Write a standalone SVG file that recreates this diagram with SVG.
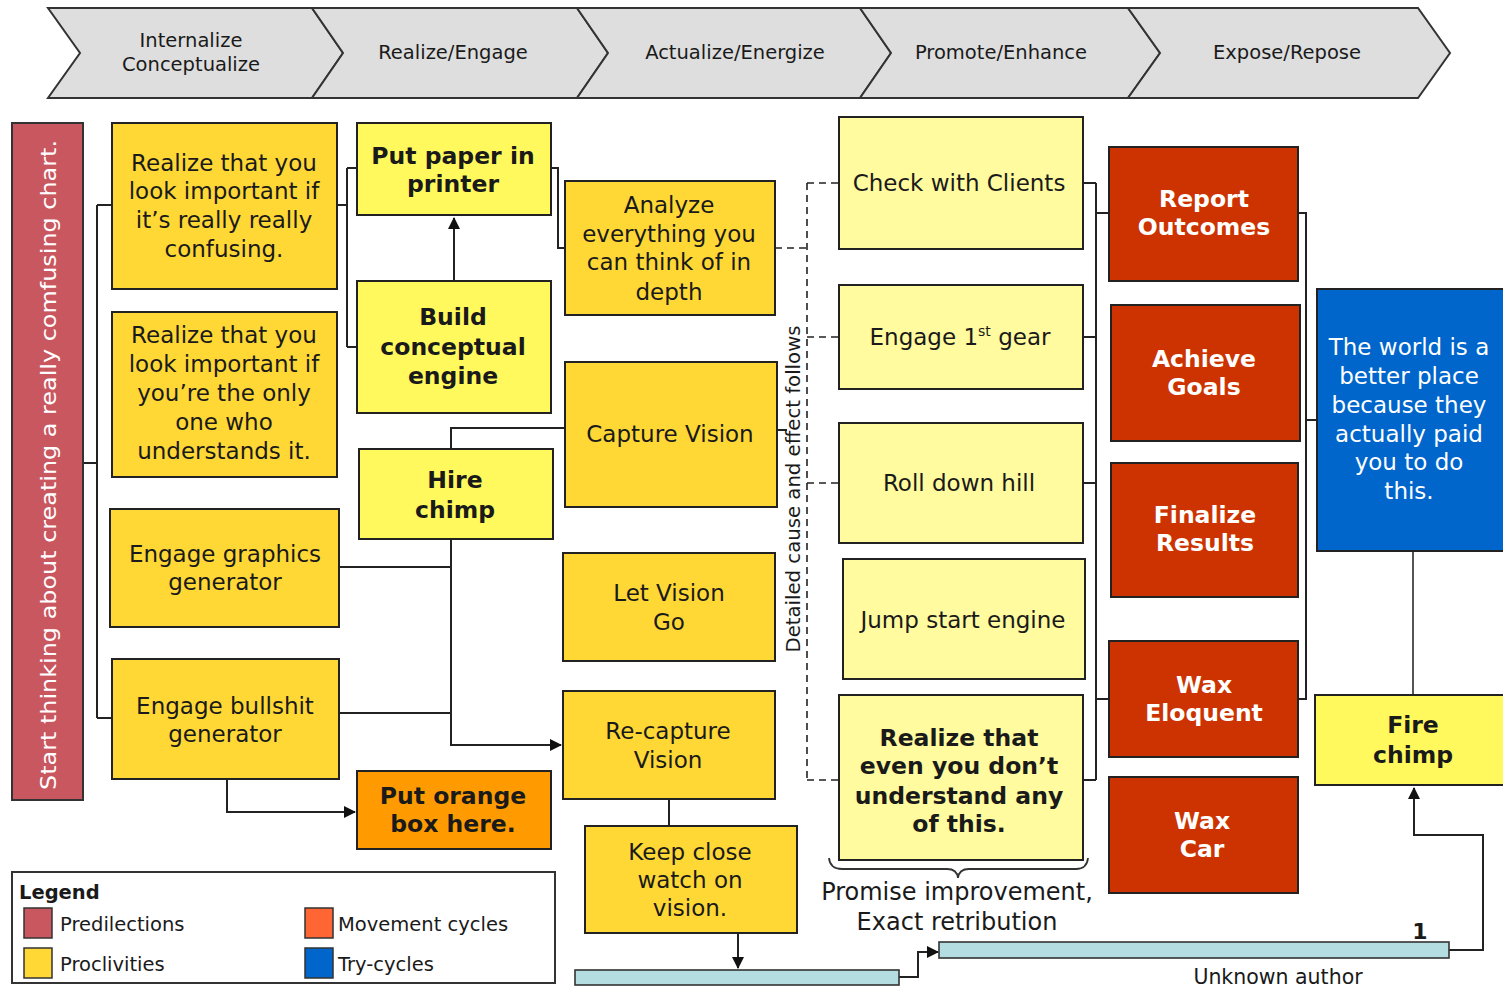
<svg xmlns="http://www.w3.org/2000/svg" width="1503" height="989" viewBox="0 0 1503 989">
<defs>
<marker id="ah" viewBox="0 0 12 12" refX="11" refY="6" markerWidth="12" markerHeight="12" markerUnits="userSpaceOnUse" orient="auto">
<path d="M0,0 L12,6 L0,12 Z" fill="#111"/>
</marker>
<style>
text{font-family:"DejaVu Sans","Liberation Sans",sans-serif;fill:#1a1a1a;text-anchor:middle}
.chev{fill:#dedede;stroke:#333;stroke-width:2}
.ct{font-size:19.5px}
.box{stroke:#222;stroke-width:2}
.gold{fill:#ffd835}
.lite{fill:#fff95e}
.pale{fill:#fffb9e}
.red{fill:#cc3300}
.blue{fill:#0066cc}
.orange{fill:#ff9a00}
.t{font-size:23px}
.tb{font-size:23.5px;font-weight:bold}
.tw{font-size:23.5px;font-weight:bold;fill:#fff}
.tbl{font-size:23px;fill:#fff}
.ln{fill:none;stroke:#222;stroke-width:2}
.dash{fill:none;stroke:#222;stroke-width:1.6;stroke-dasharray:7,5}
.lg{font-size:19.5px;text-anchor:start}
.bar{fill:#b3dde0;stroke:#333;stroke-width:1.6}
</style>
</defs>
<rect width="1503" height="989" fill="#fff"/>

<g id="phases">
<polygon class="chev" points="48,8 312,8 343,53 312,98 48,98 80,53"/>
<polygon class="chev" points="312,8 577,8 608,53 577,98 312,98 343,53"/>
<polygon class="chev" points="577,8 860,8 891,53 860,98 577,98 608,53"/>
<polygon class="chev" points="860,8 1128,8 1160,53 1128,98 860,98 891,53"/>
<polygon class="chev" points="1128,8 1418,8 1450,53 1418,98 1128,98 1160,53"/>
<text class="ct" x="191" y="47">Internalize</text>
<text class="ct" x="191" y="71">Conceptualize</text>
<text class="ct" x="453" y="59">Realize/Engage</text>
<text class="ct" x="735" y="59">Actualize/Energize</text>
<text class="ct" x="1001" y="59">Promote/Enhance</text>
<text class="ct" x="1287" y="59">Expose/Repose</text>
</g>

<g id="connectors">
<path class="ln" d="M83,463 H97 M97,205 V718 M97,205 H112 M97,718 H112"/>
<path class="ln" d="M337,205 H347 M347,168 V347 M347,168 H357 M347,347 H357"/>
<path class="ln" d="M454,281 V218" marker-end="url(#ah)"/>
<path class="ln" d="M551,168 H558 V248 H565"/>
<path class="ln" d="M451,449 V428 H565"/>
<path class="ln" d="M451,539 V745 H561" marker-end="url(#ah)"/>
<path class="ln" d="M339,567 H451 M339,713 H451"/>
<path class="ln" d="M227,779 V812 H355" marker-end="url(#ah)"/>
<path class="ln" d="M669,799 V826"/>
<path class="ln" d="M738,933 V968" marker-end="url(#ah)"/>
<path class="ln" d="M899,977 H918 V952 H938" marker-end="url(#ah)"/>
<path class="ln" d="M1449,950 H1483 V835 H1414 V788" marker-end="url(#ah)"/>
<path d="M1413,551 V695" fill="none" stroke="#555" stroke-width="2"/>
<path class="ln" d="M777,430 H787"/>
<path class="ln" d="M1083,183 H1096 M1083,337 H1096 M1083,483 H1096 M1083,780 H1096 M1096,183 V780 M1096,213 H1109 M1096,699 H1109"/>
<path class="ln" d="M1298,213 H1306 V699 H1298 M1306,420 H1317"/>
<path class="dash" d="M807,183 V780 M807,183 H839 M775,248 H807 M807,337 H839 M807,483 H839 M807,780 H839"/>
<text font-size="19" textLength="327" lengthAdjust="spacingAndGlyphs" transform="translate(800,489) rotate(-90)">Detailed cause and effect follows</text>
<path d="M829,858 Q830,869 842,869 L947,869 Q957,869 958,878 Q959,869 969,869 L1076,869 Q1087,869 1088,858" fill="none" stroke="#333" stroke-width="1.8"/>
<text font-size="24" x="957" y="900">Promise improvement,</text>
<text font-size="24" x="957" y="930">Exact retribution</text>
</g>

<g id="start">
<rect x="12" y="123" width="71" height="677" fill="#c9575f" stroke="#333" stroke-width="2"/>
<text font-size="22" style="fill:#fff" textLength="650" lengthAdjust="spacingAndGlyphs" transform="translate(56,465) rotate(-90)">Start thinking about creating a really comfusing chart.</text>
</g>

<g id="realize1">
<rect class="box gold" x="112" y="123" width="225" height="166"/>
<text class="t" x="224" y="171">Realize that you</text>
<text class="t" x="224" y="199">look important if</text>
<text class="t" x="224" y="228">it’s really really</text>
<text class="t" x="224" y="257">confusing.</text>
</g>
<g id="realize2">
<rect class="box gold" x="112" y="312" width="225" height="165"/>
<text class="t" x="224" y="343">Realize that you</text>
<text class="t" x="224" y="372">look important if</text>
<text class="t" x="224" y="401">you’re the only</text>
<text class="t" x="224" y="430">one who</text>
<text class="t" x="224" y="459">understands it.</text>
</g>
<g id="graphics">
<rect class="box gold" x="110" y="509" width="229" height="118"/>
<text class="t" x="225" y="562">Engage graphics</text>
<text class="t" x="225" y="590">generator</text>
</g>
<g id="bullshit">
<rect class="box gold" x="112" y="659" width="227" height="120"/>
<text class="t" x="225" y="714">Engage bullshit</text>
<text class="t" x="225" y="742">generator</text>
</g>
<g id="paper">
<rect class="box lite" x="357" y="123" width="194" height="92"/>
<text class="tb" x="453" y="164">Put paper in</text>
<text class="tb" x="453" y="192">printer</text>
</g>
<g id="build">
<rect class="box lite" x="357" y="281" width="194" height="132"/>
<text class="tb" x="453" y="325">Build</text>
<text class="tb" x="453" y="355">conceptual</text>
<text class="tb" x="453" y="384">engine</text>
</g>
<g id="hire">
<rect class="box lite" x="359" y="449" width="194" height="90"/>
<text class="tb" x="455" y="488">Hire</text>
<text class="tb" x="455" y="518">chimp</text>
</g>
<g id="orangebox">
<rect class="box orange" x="357" y="771" width="194" height="78"/>
<text class="tb" x="453" y="804">Put orange</text>
<text class="tb" x="453" y="832">box here.</text>
</g>
<g id="analyze">
<rect class="box gold" x="565" y="181" width="210" height="134"/>
<text class="t" x="669" y="213">Analyze</text>
<text class="t" x="669" y="242">everything you</text>
<text class="t" x="669" y="270">can think of in</text>
<text class="t" x="669" y="300">depth</text>
</g>
<g id="capture">
<rect class="box gold" x="565" y="362" width="212" height="145"/>
<text class="t" x="670" y="442">Capture Vision</text>
</g>
<g id="letgo">
<rect class="box gold" x="563" y="553" width="212" height="108"/>
<text class="t" x="669" y="601">Let Vision</text>
<text class="t" x="669" y="630">Go</text>
</g>
<g id="recapture">
<rect class="box gold" x="563" y="691" width="212" height="108"/>
<text class="t" x="668" y="739">Re-capture</text>
<text class="t" x="668" y="768">Vision</text>
</g>
<g id="keepclose">
<rect class="box gold" x="585" y="826" width="212" height="107"/>
<text class="t" x="690" y="860">Keep close</text>
<text class="t" x="690" y="888">watch on</text>
<text class="t" x="690" y="916">vision.</text>
</g>
<g id="check">
<rect class="box pale" x="839" y="117" width="244" height="132"/>
<text class="t" x="959" y="191">Check with Clients</text>
</g>
<g id="gear">
<rect class="box pale" x="839" y="285" width="244" height="104"/>
<text class="t" x="960" y="345">Engage 1<tspan font-size="14" dy="-9">st</tspan><tspan dy="9"> gear</tspan></text>
</g>
<g id="roll">
<rect class="box pale" x="839" y="423" width="244" height="120"/>
<text class="t" x="959" y="491">Roll down hill</text>
</g>
<g id="jump">
<rect class="box pale" x="843" y="559" width="242" height="120"/>
<text class="t" x="963" y="628">Jump start engine</text>
</g>
<g id="realize3">
<rect class="box pale" x="839" y="695" width="244" height="165"/>
<text class="tb" x="959" y="746">Realize that</text>
<text class="tb" x="959" y="774">even you don’t</text>
<text class="tb" x="959" y="804">understand any</text>
<text class="tb" x="959" y="832">of this.</text>
</g>
<g id="report">
<rect class="box red" x="1109" y="147" width="189" height="134"/>
<text class="tw" x="1204" y="207">Report</text>
<text class="tw" x="1204" y="235">Outcomes</text>
</g>
<g id="achieve">
<rect class="box red" x="1111" y="305" width="189" height="136"/>
<text class="tw" x="1204" y="367">Achieve</text>
<text class="tw" x="1204" y="395">Goals</text>
</g>
<g id="finalize">
<rect class="box red" x="1111" y="463" width="187" height="134"/>
<text class="tw" x="1205" y="523">Finalize</text>
<text class="tw" x="1205" y="551">Results</text>
</g>
<g id="waxeloquent">
<rect class="box red" x="1109" y="641" width="189" height="116"/>
<text class="tw" x="1204" y="693">Wax</text>
<text class="tw" x="1204" y="721">Eloquent</text>
</g>
<g id="waxcar">
<rect class="box red" x="1109" y="777" width="189" height="116"/>
<text class="tw" x="1202" y="829">Wax</text>
<text class="tw" x="1202" y="857">Car</text>
</g>
<g id="world">
<rect class="box blue" x="1317" y="289" width="190" height="262"/>
<text class="tbl" x="1409" y="355">The world is a</text>
<text class="tbl" x="1409" y="384">better place</text>
<text class="tbl" x="1409" y="413">because they</text>
<text class="tbl" x="1409" y="442">actually paid</text>
<text class="tbl" x="1409" y="470">you to do</text>
<text class="tbl" x="1409" y="499">this.</text>
</g>
<g id="firechimp">
<rect class="box lite" x="1315" y="695" width="192" height="90"/>
<text class="tb" x="1413" y="733">Fire</text>
<text class="tb" x="1413" y="763">chimp</text>
</g>

<g id="timeline">
<rect class="bar" x="575" y="970" width="324" height="15"/>
<rect class="bar" x="939" y="942" width="510" height="16"/>
<text font-size="22" font-weight="bold" x="1420" y="939">1</text>
<text font-size="20.5" x="1278" y="984">Unknown author</text>
</g>

<g id="legend">
<rect x="12" y="872" width="543" height="111" fill="#fff" stroke="#333" stroke-width="2"/>
<text class="lg" x="19" y="899" font-weight="bold">Legend</text>
<rect x="24" y="908" width="28" height="30" fill="#c9575f" stroke="#333" stroke-width="1.5"/>
<text class="lg" x="60" y="931">Predilections</text>
<rect x="24" y="948" width="28" height="30" fill="#ffd835" stroke="#333" stroke-width="1.5"/>
<text class="lg" x="60" y="971">Proclivities</text>
<rect x="305" y="908" width="28" height="30" fill="#ff6633" stroke="#333" stroke-width="1.5"/>
<text class="lg" x="338" y="931">Movement cycles</text>
<rect x="305" y="948" width="28" height="30" fill="#0066cc" stroke="#333" stroke-width="1.5"/>
<text class="lg" x="338" y="971">Try-cycles</text>
</g>
</svg>
